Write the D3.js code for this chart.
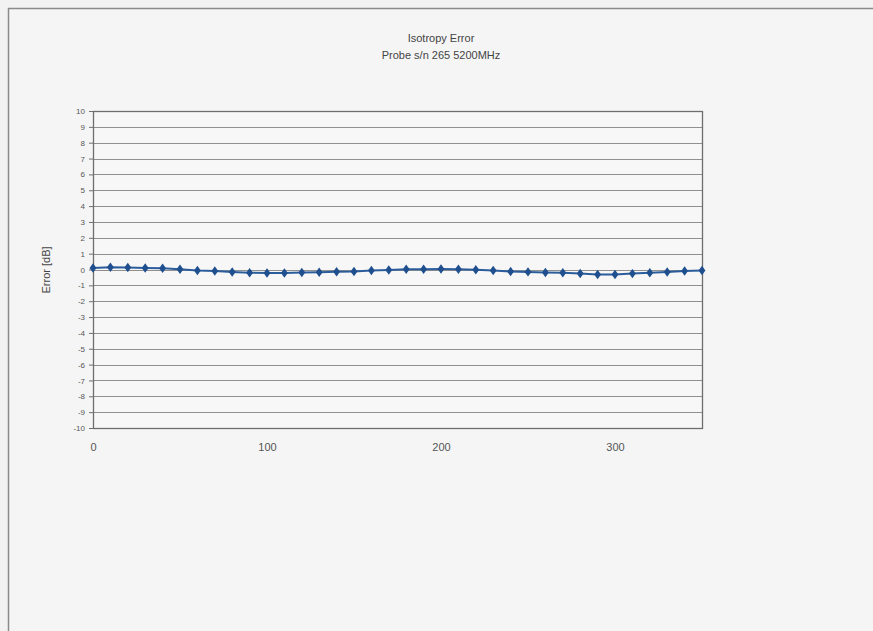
<!DOCTYPE html>
<html>
<head>
<meta charset="utf-8">
<script src="https://cdn.jsdelivr.net/npm/d3@7"></script>
<style>
  html, body { margin: 0; padding: 0; background: #f2f2f2; }
  svg { display: block; }
</style>
</head>
<body>
<svg id="chart" width="873" height="631"></svg>
<script>
// Isotropy error vs. rotation angle (degrees), probe s/n 265 at 5200 MHz
const titleLines = ["Isotropy Error", "Probe s/n 265 5200MHz"];
const yLabel = "Error [dB]";
const angles = d3.range(0, 360, 10);
const errorDb = [0.10, 0.14, 0.12, 0.10, 0.08, 0.02, -0.06, -0.10, -0.16, -0.20,
                 -0.22, -0.22, -0.19, -0.17, -0.14, -0.12, -0.06, -0.03, 0.01, 0.02,
                 0.03, 0.02, -0.02, -0.07, -0.13, -0.15, -0.19, -0.21, -0.25, -0.31,
                 -0.31, -0.26, -0.21, -0.16, -0.10, -0.06];
const yTicks = d3.range(-10, 11, 1);
const xTicks = [0, 100, 200, 300];

const svg = d3.select("#chart");
const font = "'Liberation Sans', Arial, sans-serif";

// outer chart frame
svg.append("rect").attr("x", 8.5).attr("y", 8.5).attr("width", 880).attr("height", 640)
  .attr("fill", "#f5f5f5").attr("stroke", "#8a8a8a").attr("stroke-width", 1.5);

const plot = { left: 93, right: 702, top: 111, bottom: 428 };

const x = d3.scaleLinear().domain([0, 350]).range([plot.left, plot.right]);
const y = d3.scaleLinear().domain([-10, 10]).range([plot.bottom, plot.top]);

// plot area
svg.append("rect").attr("x", plot.left).attr("y", plot.top)
  .attr("width", plot.right - plot.left).attr("height", plot.bottom - plot.top)
  .attr("fill", "#f7f7f7");

// horizontal gridlines
svg.append("g").selectAll("line").data(yTicks.filter(t => t > -10 && t < 10)).join("line")
  .attr("x1", plot.left).attr("x2", plot.right)
  .attr("y1", d => Math.round(y(d)) + 0.5).attr("y2", d => Math.round(y(d)) + 0.5)
  .attr("stroke", "#8f8f8f").attr("stroke-width", 1);

// plot border
svg.append("rect").attr("x", plot.left + 0.5).attr("y", plot.top + 0.5)
  .attr("width", plot.right - plot.left).attr("height", plot.bottom - plot.top)
  .attr("fill", "none").attr("stroke", "#6e6e6e").attr("stroke-width", 1.3);

// y axis
const yAxis = d3.axisLeft(y).tickValues(yTicks).tickSize(4).tickPadding(4)
  .tickFormat(d => String(d));
const gy = svg.append("g").attr("transform", `translate(${plot.left},0)`).call(yAxis);
gy.select(".domain").attr("stroke", "#6e6e6e");
gy.selectAll(".tick line").attr("stroke", "#6e6e6e");
gy.selectAll(".tick text").attr("font-family", font).attr("font-size", 8).attr("fill", "#555");

// x axis labels (no tick marks)
const xAxis = d3.axisBottom(x).tickValues(xTicks).tickSize(0).tickPadding(15);
const gx = svg.append("g").attr("transform", `translate(0,${plot.bottom})`).call(xAxis);
gx.select(".domain").remove();
gx.selectAll(".tick text").attr("font-family", font).attr("font-size", 11).attr("fill", "#555");

// titles
svg.append("g").selectAll("text").data(titleLines).join("text")
  .attr("x", 441).attr("y", (d, i) => 42 + i * 17)
  .attr("text-anchor", "middle").attr("font-family", font).attr("font-size", 11)
  .attr("fill", "#444").text(d => d);

// y label
svg.append("text").attr("transform", "translate(50,270) rotate(-90)")
  .attr("text-anchor", "middle").attr("font-family", font).attr("font-size", 11)
  .attr("fill", "#444").text(yLabel);

// series
const pts = angles.map((a, i) => [a, errorDb[i]]);
svg.append("path").datum(pts)
  .attr("fill", "none").attr("stroke", "#2b5d9c").attr("stroke-width", 2)
  .attr("d", d3.line().x(d => x(d[0])).y(d => y(d[1])));

svg.append("g").selectAll("path").data(pts).join("path")
  .attr("transform", d => `translate(${x(d[0])},${y(d[1])}) scale(1.25,1)`)
  .attr("d", d3.symbol().type(d3.symbolDiamond).size(26))
  .attr("fill", "#1f4f8e");
</script>
</body>
</html>
